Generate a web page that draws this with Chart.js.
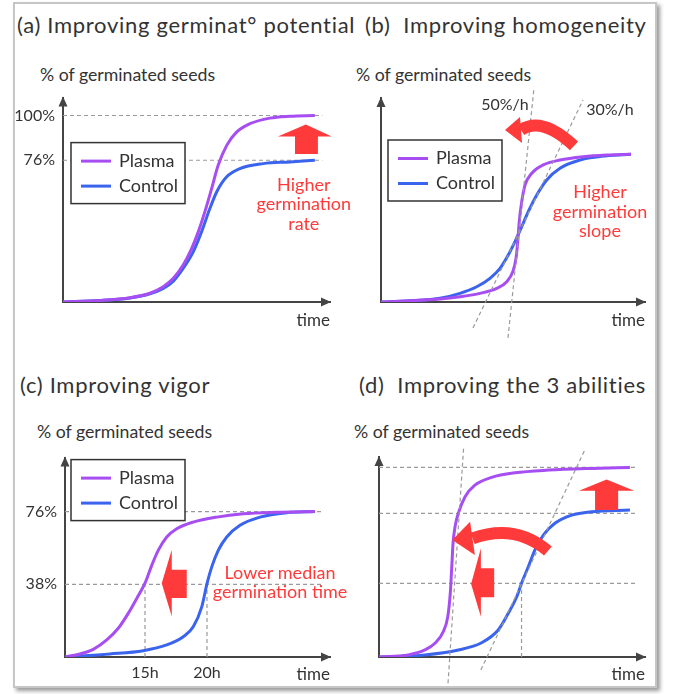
<!DOCTYPE html>
<html>
<head>
<meta charset="utf-8">
<script src="https://cdn.jsdelivr.net/npm/chart.js@4.4.1/dist/chart.umd.min.js"></script>
<style>
  body { margin: 0; background: #fff; font-family: Lato, "Open Sans", sans-serif; color: #333; }
  #frame { position: absolute; left: 13px; top: 2px; width: 640px; height: 682px; border: 2px solid #c6c6c6; box-shadow: 3px 3px 4px rgba(0,0,0,0.4); }
  .title { position: absolute; font-size: 22px; letter-spacing: 0.7px; line-height: 24px; white-space: nowrap; }
  .ylab { position: absolute; font-size: 17.7px; line-height: 20px; white-space: nowrap; }
  canvas { position: absolute; }
</style>
</head>
<body>
<div id="frame"></div>
<div class="title" style="left:17px;top:13px">(a) Improving germinat° potential</div>
<div class="title" style="left:365px;top:13px">(b)&nbsp; Improving homogeneity</div>
<div class="title" style="left:20px;top:373px">(c) Improving vigor</div>
<div class="title" style="left:359px;top:373px">(d)&nbsp; Improving the 3 abilities</div>
<div class="ylab" style="left:40px;top:65px">% of germinated seeds</div>
<div class="ylab" style="left:356px;top:65px">% of germinated seeds</div>
<div class="ylab" style="left:37px;top:422px">% of germinated seeds</div>
<div class="ylab" style="left:354px;top:422px">% of germinated seeds</div>
<canvas id="chartA" width="360" height="265" style="left:0;top:80px"></canvas>
<canvas id="chartB" width="342" height="265" style="left:321px;top:80px"></canvas>
<canvas id="chartC" width="360" height="255" style="left:0;top:440px"></canvas>
<canvas id="chartD" width="342" height="255" style="left:321px;top:440px"></canvas>
<script>
// time is in arbitrary units: 0 = y axis, 100 = end of the curves
// (a) germination potential
var potentialPlasmaTime = [0, 14.7, 26.6, 34.5, 39.8, 43.8, 47.7, 51.1, 53.7, 56.3, 59, 61.6, 65, 68.9, 74.2, 82.1, 90.1, 100];
var potentialPlasma = [0, 0.8, 2.3, 4.7, 8.2, 12.7, 19.8, 28.7, 37.6, 48.3, 60.8, 73.3, 84, 91.1, 95.6, 98.6, 99.6, 100];
var potentialControlTime = [0, 14.7, 26.6, 34.5, 39.8, 43.8, 47.7, 51.7, 55, 58.3, 61, 64.9, 70.2, 79.5, 90.1, 100];
var potentialControl = [0, 0.8, 2.2, 4.4, 7.3, 11.2, 18, 26.9, 37.6, 50.1, 59, 67, 71.5, 74.2, 75.1, 76];
var potentialLevels = [100, 76];
var potentialLevelLabels = ["100%", "76%"];

// (b) homogeneity
var homogPlasmaTime = [0, 23.6, 31.6, 39.6, 46.3, 50.3, 52.7, 54, 54.7, 55.3, 56.3, 57.6, 60.3, 64.9, 71.6, 80.9, 90.3, 100];
var homogPlasma = [0, 1.6, 2.8, 4.6, 7.3, 10.8, 16.1, 23.2, 32.1, 42.7, 53.4, 62.2, 68.5, 72.9, 75.5, 77.3, 78.2, 78.6];
var homogControlTime = [0, 23.6, 31.6, 38.3, 43.6, 47.6, 50.9, 53.6, 56.3, 58.9, 62.3, 66.3, 71.6, 79.6, 90.3, 100];
var homogControl = [0, 2, 4.6, 8.1, 12.6, 17.9, 25, 32.1, 40.1, 48, 56.9, 64.9, 71.1, 75.5, 77.8, 78.6];
var homogTangents = [[[50.8, -19.1], [61.2, 113.8]], [[36.8, -13.8], [80.8, 107.4]]];
var homogSlopeLabels = ["50%/h", "30%/h"];

// (c) vigor
var vigorPlasmaTime = [0, 6, 11.3, 16.7, 21.3, 25.3, 28.7, 32, 34.7, 37.3, 40.7, 44.7, 51.3, 60.7, 71.3, 84.7, 100];
var vigorPlasma = [0, 1.6, 4, 8.9, 15, 22.8, 30.6, 38.6, 47.9, 55.7, 62.7, 67, 70.5, 73.1, 74.8, 75.6, 76];
var vigorControlTime = [0, 18, 31.3, 40.7, 47.3, 51.3, 54.7, 56.8, 58.7, 61.3, 64.7, 70, 78, 88.7, 100];
var vigorControl = [0, 1.6, 3.3, 6.3, 10.6, 15.8, 26.2, 38.4, 47.1, 55.7, 62.7, 68.8, 73.1, 75.4, 76];
var vigorLevels = [76, 38];
var vigorLevelLabels = ["76%", "38%"];
var vigorMedians = [32, 56.8];
var vigorMedianLabels = ["15h", "20h"];

// (d) the 3 abilities
var abilPlasmaTime = [0, 11.7, 18.3, 22.3, 25.6, 27.4, 28.4, 29, 29.5, 30.3, 31.6, 34.3, 38.2, 44.9, 54.2, 67.5, 84.7, 100];
var abilPlasma = [0, 1.1, 3.7, 7.2, 13.3, 21.2, 33.5, 47.5, 59.8, 68.6, 75.6, 84.4, 90.5, 94.6, 97, 98.4, 99.3, 99.8];
var abilControlTime = [0, 18.3, 31.6, 40.9, 47.5, 51.5, 54.9, 56.8, 59.5, 62.1, 65.5, 70.1, 76.8, 84.7, 100];
var abilControl = [0, 1.1, 3.7, 7.5, 14.2, 23, 31.7, 38.8, 47.5, 56.3, 64.2, 70.4, 74.7, 76.5, 77.4];
var abilLevels = [99.8, 75.6, 38.8];
var abilMedian = 56.8;
var abilTangents = [[[27.5, -13.8], [33.7, 109.8]], [[40.6, -6.8], [82.3, 109.8]]];

var FONT = "Lato, 'Open Sans', sans-serif";
var PLASMA = "#a64ef2";
var CONTROL = "#3a63ee";
var RED = "#ff3a3a";
var GUIDE = "#9a9a9a";

function curve(label, xs, ys, color, order) {
    return {
        label: label,
        inLegend: true,
        data: xs.map(function(x, i) { return {x: x, y: ys[i]}; }),
        borderColor: color,
        borderWidth: 3,
        pointRadius: 0,
        cubicInterpolationMode: "monotone",
        order: order,
    };
}

function guide(points, order) {
    return {
        label: "",
        data: points.map(function(p) { return {x: p[0], y: p[1]}; }),
        borderColor: GUIDE,
        borderWidth: 1.2,
        borderDash: [4, 3],
        pointRadius: 0,
        clip: false,
        order: order,
    };
}

function levelGuides(levels, end) {
    return levels.map(function(v) { return guide([[0, v], [end, v]], 3); });
}

// legend box, axis arrow heads, red arrows and notes
function makeDecor(d) {
    return {
        id: "decor",
        afterDatasetsDraw: function(chart) {
            const ctx = chart.ctx;
            const a = chart.chartArea;
            const xs = chart.scales.x, ys = chart.scales.y;
            const P = function(p) { return [xs.getPixelForValue(p[0]), ys.getPixelForValue(p[1])]; };
            ctx.save();

            ctx.fillStyle = "#444";
            ctx.beginPath();
            ctx.moveTo(a.left, a.top - 1);
            ctx.lineTo(a.left - 4.5, a.top + 9);
            ctx.lineTo(a.left + 4.5, a.top + 9);
            ctx.closePath();
            ctx.fill();
            ctx.beginPath();
            ctx.moveTo(a.right + 1, a.bottom);
            ctx.lineTo(a.right - 9, a.bottom - 4.5);
            ctx.lineTo(a.right - 9, a.bottom + 4.5);
            ctx.closePath();
            ctx.fill();

            ctx.fillStyle = RED;
            (d.blocks || []).forEach(function(pts) {
                ctx.beginPath();
                pts.forEach(function(p, i) {
                    const q = P(p);
                    if (i) ctx.lineTo(q[0], q[1]); else ctx.moveTo(q[0], q[1]);
                });
                ctx.closePath();
                ctx.fill();
            });

            (d.bends || []).forEach(function(b) {
                const s = P(b.from), c = P(b.ctrl), e = P(b.to);
                ctx.strokeStyle = RED;
                ctx.lineWidth = 12;
                ctx.lineCap = "butt";
                ctx.beginPath();
                ctx.moveTo(s[0], s[1]);
                ctx.quadraticCurveTo(c[0], c[1], e[0], e[1]);
                ctx.stroke();
                const t = P(b.tip), w1 = P(b.wings[0]), w2 = P(b.wings[1]);
                ctx.beginPath();
                ctx.moveTo(t[0], t[1]);
                ctx.lineTo(w1[0], w1[1]);
                ctx.lineTo(w2[0], w2[1]);
                ctx.closePath();
                ctx.fill();
            });

            (d.notes || []).forEach(function(n) {
                const q = P([n.x, n.y]);
                ctx.fillStyle = n.color;
                ctx.font = n.size + "px " + FONT;
                ctx.textAlign = "center";
                ctx.textBaseline = "middle";
                n.lines.forEach(function(line, i) {
                    ctx.fillText(line, q[0], q[1] + i * 19.5);
                });
            });

            if (d.legend) {
                const bx = a.left + d.legend.dx, by = a.top + d.legend.dy;
                ctx.fillStyle = "#fff";
                ctx.fillRect(bx, by, 114, 61);
                ctx.strokeStyle = "#333";
                ctx.lineWidth = 1.5;
                ctx.strokeRect(bx, by, 114, 61);
                chart.data.datasets.filter(function(ds) { return ds.inLegend; }).forEach(function(ds, i) {
                    const ly = by + 18.5 + i * 25;
                    ctx.strokeStyle = ds.borderColor;
                    ctx.lineWidth = 3;
                    ctx.beginPath();
                    ctx.moveTo(bx + 10, ly);
                    ctx.lineTo(bx + 40, ly);
                    ctx.stroke();
                    ctx.fillStyle = "#333";
                    ctx.font = "18px " + FONT;
                    ctx.textAlign = "left";
                    ctx.textBaseline = "middle";
                    ctx.fillText(ds.label, bx + 48, ly);
                });
            }
            ctx.restore();
        }
    };
}

function makeChart(id, cfg) {
    const tickFont = {size: 16, family: FONT};
    return new Chart(document.getElementById(id), {
        type: "line",
        data: {datasets: cfg.datasets},
        options: {
            responsive: false,
            animation: false,
            events: [],
            layout: {padding: cfg.pad},
            plugins: {legend: {display: false}, tooltip: {enabled: false}},
            scales: {
                x: {
                    type: "linear", min: 0, max: cfg.xMax,
                    grid: {display: false, drawTicks: false},
                    border: {color: "#444", width: 2},
                    afterBuildTicks: function(ax) { ax.ticks = cfg.xTicks.map(function(v) { return {value: v}; }); },
                    afterFit: function(ax) { ax.height = cfg.xH; },
                    ticks: {padding: 6, color: "#333", font: tickFont, callback: function(v, i) { return cfg.xLabels[i]; }},
                    title: {display: true, text: "time", align: "end", color: "#333", font: {size: 17, family: FONT}, padding: 0},
                },
                y: {
                    type: "linear", min: 0, max: cfg.yMax,
                    grid: {display: false, drawTicks: false},
                    border: {color: "#444", width: 2},
                    afterBuildTicks: function(ax) { ax.ticks = cfg.yTicks.map(function(v) { return {value: v}; }); },
                    afterFit: function(ax) { ax.width = 52; },
                    ticks: {padding: 8, color: "#333", font: tickFont, callback: function(v, i) { return cfg.yLabels[i]; }},
                },
            },
        },
        plugins: [makeDecor(cfg.decor)],
    });
}

// (a)
makeChart("chartA", {
    pad: {left: 11, top: 17, right: 30, bottom: 14},
    xMax: 106, yMax: 109.6, xH: 29,
    xTicks: [], xLabels: [],
    yTicks: potentialLevels, yLabels: potentialLevelLabels,
    datasets: [
        curve("Plasma", potentialPlasmaTime, potentialPlasma, PLASMA, 1),
        curve("Control", potentialControlTime, potentialControl, CONTROL, 2),
    ].concat(levelGuides(potentialLevels, 103)),
    decor: {
        legend: {dx: 8, dy: 45},
        blocks: [[[96.4, 95.2], [106.7, 88.8], [101.2, 88.8], [101.2, 79.3], [92.1, 79.3], [92.1, 88.8], [85.3, 88.8]]],
        notes: [{lines: ["Higher", "germination", "rate"], x: 95.6, y: 62.8, color: RED, size: 18}],
    },
});

// (b)
makeChart("chartB", {
    pad: {left: 8, top: 18, right: 18, bottom: 14},
    xMax: 105.6, yMax: 108.5, xH: 29,
    xTicks: [], xLabels: [],
    yTicks: [], yLabels: [],
    datasets: [
        curve("Plasma", homogPlasmaTime, homogPlasma, PLASMA, 1),
        curve("Control", homogControlTime, homogControl, CONTROL, 2),
    ].concat(homogTangents.map(function(t) { return guide(t, 0); })),
    decor: {
        legend: {dx: 7, dy: 42},
        bends: [{from: [77.2, 83], ctrl: [64.4, 98.9], to: [56, 91.5], tip: [49.6, 91.5], wings: [[55.6, 98.4], [56.4, 84.6]]}],
        notes: [
            {lines: ["Higher", "germination", "slope"], x: 87.6, y: 58.4, color: RED, size: 18},
            {lines: [homogSlopeLabels[0]], x: 49.6, y: 105, color: "#333", size: 16},
            {lines: [homogSlopeLabels[1]], x: 91.6, y: 102.1, color: "#333", size: 16},
        ],
    },
});

// (c)
makeChart("chartC", {
    pad: {left: 13, top: 17, right: 30, bottom: 10},
    xMax: 106, yMax: 104.2, xH: 28,
    xTicks: vigorMedians, xLabels: vigorMedianLabels,
    yTicks: vigorLevels, yLabels: vigorLevelLabels,
    datasets: [
        curve("Plasma", vigorPlasmaTime, vigorPlasma, PLASMA, 1),
        curve("Control", vigorControlTime, vigorControl, CONTROL, 2),
    ].concat(levelGuides(vigorLevels, 102.8))
     .concat(vigorMedians.map(function(m) { return guide([[m, 0], [m, vigorLevels[1]]], 3); })),
    decor: {
        legend: {dx: 6, dy: 2},
        blocks: [[[38.7, 38.6], [42.7, 56], [42.7, 45.6], [48.7, 45.6], [48.7, 30.8], [42.7, 30.8], [42.7, 21.2]]],
        notes: [{lines: ["Lower median", "germination time"], x: 86, y: 44, color: RED, size: 18}],
    },
});

// (d)
makeChart("chartD", {
    pad: {left: 6, top: 17, right: 18, bottom: 10},
    xMax: 106, yMax: 105.3, xH: 28,
    xTicks: [], xLabels: [],
    yTicks: [], yLabels: [],
    datasets: [
        curve("Plasma", abilPlasmaTime, abilPlasma, PLASMA, 1),
        curve("Control", abilControlTime, abilControl, CONTROL, 2),
    ].concat(levelGuides(abilLevels, 102.4))
     .concat([guide([[abilMedian, 0], [abilMedian, abilLevels[2]]], 3)])
     .concat(abilTangents.map(function(t) { return guide(t, 0); })),
    decor: {
        blocks: [
            [[90.7, 93.5], [101.7, 87.5], [95.3, 87.5], [95.3, 77.4], [86.1, 77.4], [86.1, 87.5], [79.7, 87.5]],
            [[36.7, 38.4], [40.6, 57.2], [40.6, 46.7], [45.9, 46.7], [45.9, 31.4], [40.6, 31.4], [40.6, 21.2]],
        ],
        bends: [{from: [67.3, 55.8], ctrl: [54.2, 70.5], to: [37.3, 62.4], tip: [29.2, 61.6], wings: [[36.3, 71.2], [38.2, 53.7]]}],
    },
});
</script>
</body>
</html>
